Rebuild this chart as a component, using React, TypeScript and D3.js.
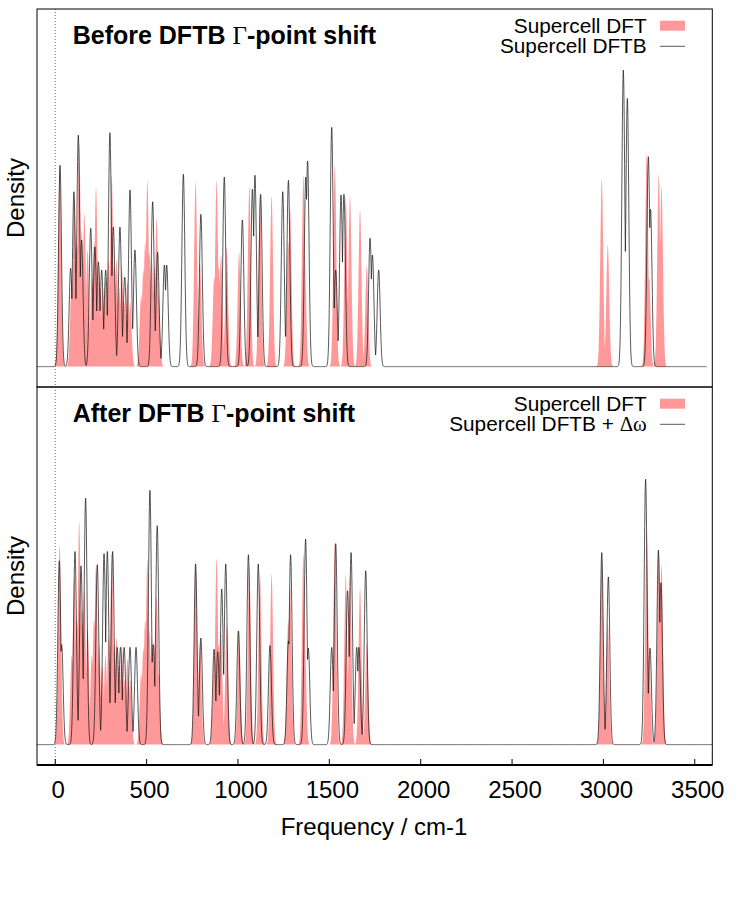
import React, { useEffect, useRef } from "react";
import * as d3 from "d3";

// Supercell DFT modes (cm-1) and peak densities (panel top = 100)
const dftFreq = [
  24, 90, 104, 118, 131, 145, 159, 177, 200, 212, 223, 240, 258, 275, 292, 309, 322, 335, 350, 364, 378, 395, 410,
  470, 482, 492, 504, 515, 528, 542, 555, 565,
  768, 792, 870, 883, 895, 907, 938, 1006, 1062, 1120, 1184, 1275, 1285, 1358, 1365,
  1530, 1590, 1613, 1668, 1705,
  2991, 3024, 3237, 3250, 3303, 3318,
];
const dftDensity = [
  56, 25, 47.5, 35, 62.4, 38, 43, 32.6, 25, 35, 50.3, 28, 22, 25, 30, 53.5, 28, 30, 22, 28, 18, 24, 18,
  20, 27, 35, 52, 32, 30, 28, 41.4, 20,
  51.7, 28.9, 25, 52.1, 28, 31.2, 33.4, 31.9, 50.3, 47.7, 47.7, 35, 44.2, 53.5, 30,
  56.3, 47.5, 47.7, 43.8, 28.4,
  52.6, 34, 59.6, 25, 54, 50.3,
];

// Supercell DFTB modes before the Gamma-point shift
const dftbFreq = [
  26, 84, 102, 126, 144, 194, 217, 236, 254, 276, 299, 318, 354, 380, 409, 436, 533, 560, 597, 610,
  701, 797, 925, 1024, 1079, 1093, 1124, 1245, 1276, 1371, 1381, 1513, 1535, 1564, 1580, 1723, 1736, 1770,
  3109, 3131, 3246, 3258,
];
const dftbDensity = [
  56.3, 27.5, 48.9, 64.7, 35.4, 38.7, 33.5, 29.3, 27, 27, 65.4, 39, 39, 25, 49.4, 32.6, 46.1, 32, 28.4, 28.4,
  53.8, 42.6, 53, 41, 49.6, 53.5, 48.2, 48.9, 52.1, 53, 57.5, 66.9, 27, 48, 48.2, 35.9, 31.2, 27,
  82.9, 75, 58.7, 44,
];

// Supercell DFTB + delta omega (after the shift)
const shiftedFreq = [
  22, 35, 108, 141, 166, 230, 267, 285, 314, 339, 357, 377, 409, 442, 518, 536, 558,
  768, 797, 869, 889, 911, 933, 1002, 1057, 1111, 1175, 1276, 1288, 1370, 1385, 1513, 1535, 1600, 1619, 1650, 1662, 1699,
  2991, 3027, 3231, 3255, 3301, 3315,
];
const shiftedDensity = [
  51.4, 28, 54, 50, 68.9, 50.3, 53.4, 54, 54, 27.2, 27.2, 27.2, 27.2, 27.2, 71.1, 28, 61.2,
  50.5, 29.8, 26.7, 26, 43.5, 50.5, 31.8, 53.1, 50.5, 27.7, 29, 53.1, 57.5, 27, 27.2, 56.2, 43, 53.7, 27.2, 27.2, 48.6,
  53.7, 46.9, 74.2, 27, 54.4, 45.3,
];

const xTicks = [0, 500, 1000, 1500, 2000, 2500, 3000, 3500];
const titles = ["Before DFTB ", "After DFTB "];
const lineLabels = ["Supercell DFTB", "Supercell DFTB + "];

const SIGMA = 8; // gaussian broadening, cm-1
const W = 750;
const H = 901;
const LEFT = 37;
const RIGHT = 712.3;
const SANS = "Liberation Sans, Arial, sans-serif";
const SERIF = "Liberation Serif, serif";

const broaden = (freqs: number[], dens: number[], end: number) =>
  d3.range(-100, end + 1, 1).map((f) => {
    const v = d3.max(freqs, (c, i) => dens[i] * Math.exp(-((f - c) ** 2) / (2 * SIGMA * SIGMA))) || 0;
    return [f, v] as [number, number];
  });

const App = () => {
  const ref = useRef<SVGSVGElement>(null);

  useEffect(() => {
    const svg = d3.select(ref.current);
    svg.selectAll("*").remove();

    const x = d3.scaleLinear().domain([-100, 3596]).range([LEFT, RIGHT]);
    const dft = broaden(dftFreq, dftDensity, 3560);

    const panels = [
      { top: 9, bottom: 387, curve: broaden(dftbFreq, dftbDensity, 3565), title: titles[0], label: lineLabels[0], delta: false },
      { top: 387, bottom: 765, curve: broaden(shiftedFreq, shiftedDensity, 3596), title: titles[1], label: lineLabels[1], delta: true },
    ];

    panels.forEach((p) => {
      const y = d3.scaleLinear().domain([-5.7, 100]).range([p.bottom, p.top]);
      const g = svg.append("g");

      // zero line
      g.append("line")
        .attr("x1", x(0))
        .attr("x2", x(0))
        .attr("y1", p.top)
        .attr("y2", p.bottom)
        .attr("stroke", "#444")
        .attr("stroke-width", 0.8)
        .attr("stroke-dasharray", "1,2");

      const area = d3
        .area<[number, number]>()
        .x((d) => x(d[0]))
        .y0(y(0))
        .y1((d) => y(d[1]));
      g.append("path").datum(dft).attr("fill", "#ff9999").attr("d", area);

      const line = d3
        .line<[number, number]>()
        .x((d) => x(d[0]))
        .y((d) => y(d[1]));
      g.append("path")
        .datum(p.curve)
        .attr("fill", "none")
        .attr("stroke", "#111")
        .attr("stroke-width", 0.7)
        .attr("d", line);

      g.append("rect")
        .attr("x", LEFT)
        .attr("y", p.top)
        .attr("width", RIGHT - LEFT)
        .attr("height", p.bottom - p.top)
        .attr("fill", "none")
        .attr("stroke", "#000")
        .attr("stroke-width", 1);

      // title
      const t = g
        .append("text")
        .attr("x", 72.7)
        .attr("y", p.top + 34.5)
        .attr("font-family", SANS)
        .attr("font-size", 25)
        .attr("font-weight", "bold");
      t.append("tspan").text(p.title);
      t.append("tspan").attr("font-family", SERIF).attr("font-weight", "normal").text("Γ");
      t.append("tspan").text("-point shift");

      // legend
      const lg = g.append("g").attr("font-family", SANS).attr("font-size", 20.8).attr("text-anchor", "end");
      lg.append("text").attr("x", 646.7).attr("y", p.top + 24.3).text("Supercell DFT");
      const l2 = lg.append("text").attr("x", 646.7).attr("y", p.top + 44.1);
      l2.append("tspan").text(p.label);
      if (p.delta) l2.append("tspan").attr("font-family", SERIF).text("Δω");
      g.append("rect")
        .attr("x", 660)
        .attr("y", p.top + 11.7)
        .attr("width", 25)
        .attr("height", 10)
        .attr("fill", "#ff9999");
      g.append("line")
        .attr("x1", 660)
        .attr("x2", 685)
        .attr("y1", p.top + 37.3)
        .attr("y2", p.top + 37.3)
        .attr("stroke", "#111")
        .attr("stroke-width", 0.7);

      // y label
      g.append("text")
        .attr("transform", `translate(24,${(p.top + p.bottom) / 2}) rotate(-90)`)
        .attr("text-anchor", "middle")
        .attr("font-family", SANS)
        .attr("font-size", 24)
        .text("Density");
    });

    // bottom axis
    const axis = svg.append("g");
    axis
      .append("line")
      .attr("x1", LEFT)
      .attr("x2", RIGHT)
      .attr("y1", 765)
      .attr("y2", 765)
      .attr("stroke", "#000")
      .attr("stroke-width", 2);
    axis
      .selectAll("line.tick")
      .data(xTicks)
      .enter()
      .append("line")
      .attr("class", "tick")
      .attr("x1", (d) => x(d))
      .attr("x2", (d) => x(d))
      .attr("y1", 765)
      .attr("y2", 759)
      .attr("stroke", "#000")
      .attr("stroke-width", 1);
    axis
      .selectAll("text.tick")
      .data(xTicks)
      .enter()
      .append("text")
      .attr("class", "tick")
      .attr("x", (d) => x(d) + 3)
      .attr("y", 798)
      .attr("text-anchor", "middle")
      .attr("font-family", SANS)
      .attr("font-size", 24)
      .text((d) => d);
    axis
      .append("text")
      .attr("x", 374)
      .attr("y", 835)
      .attr("text-anchor", "middle")
      .attr("font-family", SANS)
      .attr("font-size", 24)
      .text("Frequency / cm-1");
  }, []);

  return (
    <svg
      ref={ref}
      width={W}
      height={H}
      style={{ position: "absolute", left: 0, top: 0, background: "#fff" }}
    />
  );
};

export default App;
